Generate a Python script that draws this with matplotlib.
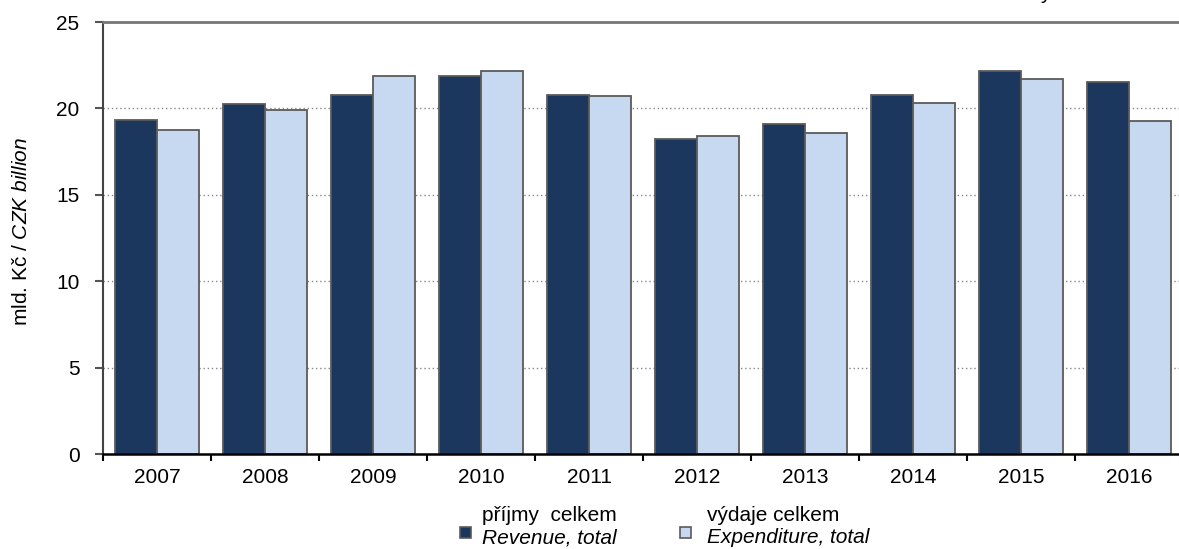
import matplotlib
matplotlib.use("Agg")
import matplotlib.pyplot as plt
from matplotlib.patches import Rectangle
import numpy as np

plt.rcParams['font.family'] = ['Liberation Sans', 'DejaVu Sans']
plt.rcParams['mathtext.fontset'] = 'custom'
plt.rcParams['mathtext.rm'] = 'Liberation Sans'
plt.rcParams['mathtext.it'] = 'Liberation Sans:italic'

years = ['2007', '2008', '2009', '2010', '2011', '2012', '2013', '2014', '2015', '2016']
revenue = [19.3, 20.23, 20.8, 21.85, 20.8, 18.25, 19.07, 20.8, 22.18, 21.5]
expenditure = [18.73, 19.88, 21.85, 22.18, 20.7, 18.38, 18.6, 20.33, 21.7, 19.27]
yticks = [0, 5, 10, 15, 20, 25]

dark = '#1b375d'
light = '#c6d9f0'
edge = '#5a5a5a'
FS = 15

W, H = 1179, 549
fig = plt.figure(figsize=(W / 100, H / 100), dpi=100)
ax = fig.add_axes([103 / W, 1 - 454 / H, 1080 / W, (454 - 22) / H])

x = np.arange(len(years)) + 0.5
bw = 0.389
ax.bar(x - bw / 2, revenue, bw, color=dark, edgecolor=edge, linewidth=1.3, zorder=3)
ax.bar(x + bw / 2, expenditure, bw, color=light, edgecolor=edge, linewidth=1.3, zorder=3)

ax.set_xlim(0, len(years))
ax.set_ylim(0, 25)
ax.set_yticks(yticks)
ax.set_yticklabels([str(v) for v in yticks], fontsize=FS)

ax.set_xticks(np.arange(len(years) + 1))
ax.set_xticklabels([])
ax.set_xticks(x, minor=True)
ax.set_xticklabels(years, minor=True, fontsize=FS)
ax.tick_params(axis='x', which='major', direction='out', length=5, width=1.5, color='black')
ax.tick_params(axis='x', which='minor', length=0, pad=10)
ax.tick_params(axis='y', direction='out', length=6, width=1.5, color='#555555', pad=11)

for v in yticks[1:-1]:
    ax.axhline(v, color='#888888', linestyle=(0, (1, 2)), linewidth=1.0, zorder=1)

ax.spines['right'].set_visible(False)
ax.spines['top'].set_color('#777777')
ax.spines['top'].set_linewidth(2.0)
ax.spines['left'].set_color('#444444')
ax.spines['left'].set_linewidth(1.5)
ax.spines['bottom'].set_color('black')
ax.spines['bottom'].set_linewidth(1.8)
ax.spines['bottom'].set_zorder(4)

ax.set_ylabel('mld. Kč / $\\it{CZK\\ billion}$', fontsize=FS)
ax.yaxis.set_label_coords((31 - 103) / 1080, (454 - 232) / 432)

# legend (manual)
for (mx, tx, line1, line2, col) in [
    (460, 482, 'příjmy  celkem', 'Revenue, total', dark),
    (680, 707, 'výdaje celkem', 'Expenditure, total', light),
]:
    fig.add_artist(Rectangle((mx / W, 1 - 538 / H), 11 / W, 11 / H, transform=fig.transFigure,
                             facecolor=col, edgecolor=edge, linewidth=1.2))
    fig.text(tx / W, 1 - 521 / H, line1, fontsize=FS, va='baseline', ha='left')
    fig.text(tx / W, 1 - 543 / H, line2, fontsize=FS, va='baseline', ha='left', style='italic')

fig.text(1040 / W, 1 + 1 / H, 'y', fontsize=FS, va='baseline', ha='left')

fig.savefig('out.png', dpi=100)
